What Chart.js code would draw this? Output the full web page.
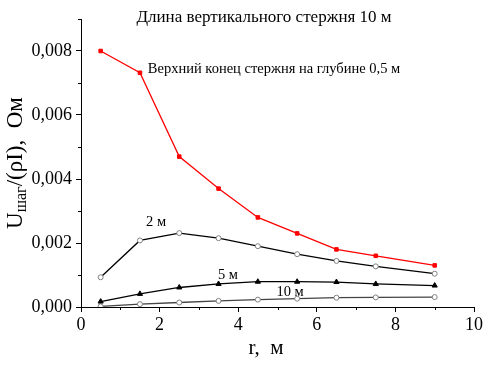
<!DOCTYPE html>
<html>
<head>
<meta charset="utf-8">
<script src="https://cdn.jsdelivr.net/npm/chart.js@4/dist/chart.umd.min.js"></script>
<style>
  body { margin: 0; background: #fff; }
</style>
</head>
<body>
<canvas id="chart" width="492" height="369"></canvas>
<script>
let distances = [0.5, 1.5, 2.5, 3.5, 4.5, 5.5, 6.5, 7.5, 9];
let depth05 = [0.0080, 0.00732, 0.0047, 0.0037, 0.0028, 0.0023, 0.0018, 0.0016, 0.0013];
let depth2 = [0.00093, 0.00208, 0.00231, 0.00215, 0.0019, 0.00165, 0.00144, 0.00127, 0.00104];
let depth5 = [0.00017, 0.00041, 0.00061, 0.00072, 0.00079, 0.00079, 0.00078, 0.00072, 0.00067];
let depth10 = [0.00002, 0.00009, 0.00014, 0.00019, 0.00023, 0.00026, 0.00029, 0.0003, 0.00031];
let xTicks = [0, 2, 4, 6, 8, 10];
let yTicks = [0, 0.002, 0.004, 0.006, 0.008];
let labels = [
  { text: "Верхний конец стержня на глубине 0,5 м", x: 1.7, y: 0.00742, align: "left" },
  { text: "2 м", x: 1.91, y: 0.00264, align: "center" },
  { text: "5 м", x: 3.74, y: 0.00098, align: "center" },
  { text: "10 м", x: 5.32, y: 0.00045, align: "center" },
];
let chartTitle = "Длина вертикального стержня 10 м";
let xTitle = "r,  м";

let serif = "'Liberation Serif', 'DejaVu Serif', serif";

function points(values) {
  return values.map((v, i) => ({ x: distances[i], y: v }));
}

// minor ticks, axis titles and the text labels
let extras = {
  id: "extras",
  afterDraw(chart) {
    let ctx = chart.ctx;
    let xs = chart.scales.x;
    let ys = chart.scales.y;
    ctx.save();
    ctx.strokeStyle = "#000";
    ctx.lineWidth = 1;
    ctx.beginPath();
    for (let v = 1; v < 10; v += 2) {
      let px = Math.round(xs.getPixelForValue(v)) + 0.5;
      ctx.moveTo(px, ys.bottom);
      ctx.lineTo(px, ys.bottom + 3);
    }
    for (let v = 0.001; v < 0.0095; v += 0.002) {
      let py = Math.round(ys.getPixelForValue(v)) + 0.5;
      ctx.moveTo(xs.left, py);
      ctx.lineTo(xs.left - 3, py);
    }
    ctx.stroke();

    ctx.fillStyle = "#000";
    ctx.textBaseline = "middle";
    ctx.font = "14.5px " + serif;
    for (let l of labels) {
      ctx.textAlign = l.align;
      ctx.fillText(l.text, xs.getPixelForValue(l.x), ys.getPixelForValue(l.y));
    }
    ctx.textAlign = "center";
    ctx.font = "17px " + serif;
    ctx.fillText(chartTitle, 264, 18);
    ctx.font = "21px " + serif;
    ctx.fillText(xTitle, 266, 348);

    // y axis title: U_шаг/(ρI),  Ом
    let big = "23px " + serif;
    let small = "16px " + serif;
    ctx.font = big;
    let w1 = ctx.measureText("U").width;
    let w3 = ctx.measureText("/(ρI),  Ом").width;
    ctx.font = small;
    let w2 = ctx.measureText("шаг").width;
    let total = w1 + w2 + w3;
    ctx.translate(16, 163);
    ctx.rotate(-Math.PI / 2);
    ctx.textAlign = "left";
    let start = -total / 2;
    ctx.font = big;
    ctx.fillText("U", start, 0);
    ctx.font = small;
    ctx.fillText("шаг", start + w1, 6);
    ctx.font = big;
    ctx.fillText("/(ρI),  Ом", start + w1 + w2, 0);
    ctx.restore();
  },
};

let ctx = document.getElementById("chart").getContext("2d");
let chart = new Chart(ctx, {
  type: "line",
  data: {
    datasets: [
      {
        label: "0,5 м",
        data: points(depth05),
        borderColor: "#ff0000",
        backgroundColor: "#ff0000",
        borderWidth: 1.3,
        pointStyle: "rect",
        pointRadius: 2.5,
        pointBorderWidth: 1,
      },
      {
        label: "2 м",
        data: points(depth2),
        borderColor: "#000",
        backgroundColor: "#fff",
        pointBorderColor: "#808080",
        borderWidth: 1.3,
        pointStyle: "circle",
        pointRadius: 2.5,
        pointBorderWidth: 1,
      },
      {
        label: "5 м",
        data: points(depth5),
        borderColor: "#000",
        backgroundColor: "#000",
        borderWidth: 1.3,
        pointStyle: "triangle",
        pointRadius: 3,
        pointBorderWidth: 1,
      },
      {
        label: "10 м",
        data: points(depth10),
        borderColor: "#444",
        backgroundColor: "#fff",
        pointBorderColor: "#808080",
        borderWidth: 1.3,
        pointStyle: "circle",
        pointRadius: 2.5,
        pointBorderWidth: 1,
      },
    ],
  },
  options: {
    responsive: false,
    animation: false,
    layout: { padding: { top: 19, right: 18, left: 0, bottom: 0 } },
    plugins: {
      legend: { display: false },
      tooltip: { enabled: false },
    },
    scales: {
      x: {
        type: "linear",
        min: 0,
        max: 10,
        afterFit: (scale) => { scale.height = 62; },
        afterBuildTicks: (scale) => { scale.ticks = xTicks.map((v) => ({ value: v })); },
        grid: { drawOnChartArea: false, tickLength: 5, color: "#000" },
        border: { color: "#000", width: 1 },
        ticks: {
          color: "#000",
          font: { family: serif, size: 18 },
          padding: 2,
          maxRotation: 0,
        },
      },
      y: {
        type: "linear",
        min: 0,
        max: 0.009,
        afterFit: (scale) => { scale.width = 81; },
        afterBuildTicks: (scale) => { scale.ticks = yTicks.map((v) => ({ value: v })); },
        grid: { drawOnChartArea: false, tickLength: 5, color: "#000" },
        border: { color: "#000", width: 1 },
        ticks: {
          color: "#000",
          font: { family: serif, size: 18 },
          padding: 4,
          callback: (v) => v.toFixed(3).replace(".", ","),
        },
      },
    },
  },
  plugins: [extras],
});
</script>
</body>
</html>
